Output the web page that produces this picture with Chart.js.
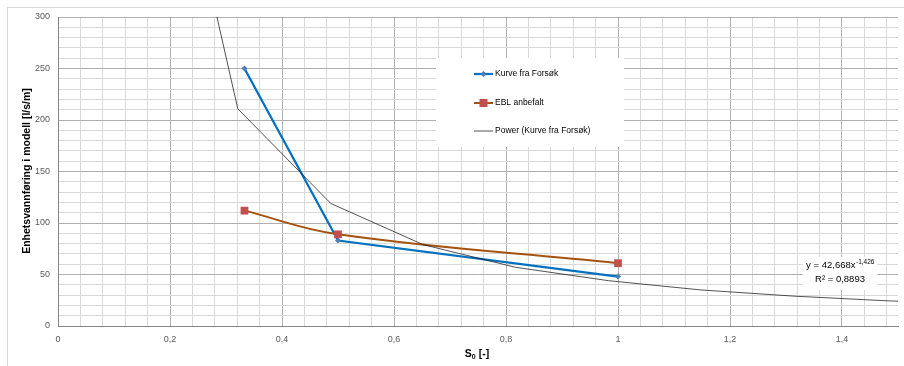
<!DOCTYPE html>
<html lang="no">

<head>
    <meta charset="UTF-8">
    <title>Enhetsvannføring</title>
    <style>
        body {
            margin: 0;
            background: #fff;
        }

        .wrap {
            width: 904px;
            height: 366px;
        }
    </style>
</head>

<body>
    <div class="wrap">
        <canvas id="chart" width="904" height="366"></canvas>
    </div>

    <script src="https://cdn.jsdelivr.net/npm/chart.js@4.4.3/dist/chart.umd.min.js"></script>
    <script>
        // måleserier
        const forsokX = [0.333, 0.5, 1]
        const forsokY = [250, 83, 48]
        const eblX = [0.333, 0.5, 1]
        const eblY = [112, 89, 61]
        // trendlinje (potens), punktene som linjen er tegnet gjennom
        const powerX = [0.155, 0.321, 0.487, 0.652, 0.817, 0.983, 1.148, 1.314, 1.479, 1.645]
        const powerY = [609, 211, 119, 79, 57, 44, 35, 29, 24.5, 21]

        const xMajorTicks = [0, 0.2, 0.4, 0.6, 0.8, 1, 1.2, 1.4]
        const yMajorTicks = [0, 50, 100, 150, 200, 250, 300]
        const xMinorCount = 38 // 0 .. 1,48 i steg på 0,04
        const yMinorCount = 31 // 0 .. 300 i steg på 10

        const legendLabels = ['Kurve fra Forsøk', 'EBL anbefalt', 'Power (Kurve fra Forsøk)']
        const trendText = ['y = 42,668x', '-1,426', 'R² = 0,8893']

        const FONT = '"Liberation Sans", Arial, sans-serif'
        const MAJOR = '#b0b0b0'
        const MINOR = '#d9d9d9'

        const toPts = (xs, ys) => xs.map((x, i) => ({ x: x, y: ys[i] }))
        const isMajor = (list, v) => list.some(m => Math.abs(m - v) < 1e-6)
        const fmt = v => String(v).replace('.', ',')

        const frame = {
            id: 'frame',
            beforeDraw(chart) {
                const ctx = chart.ctx
                ctx.save()
                ctx.fillStyle = '#fff'
                ctx.fillRect(0, 0, chart.width, chart.height)
                ctx.strokeStyle = '#d9d9d9'
                ctx.lineWidth = 1
                ctx.strokeRect(7.5, 7.5, chart.width + 20, chart.height + 20)
                ctx.restore()
            },
            afterDraw(chart) {
                const ctx = chart.ctx
                const a = chart.chartArea
                ctx.save()
                ctx.fillStyle = '#000'

                // y-aksetittel
                ctx.font = 'bold 10.5px ' + FONT
                ctx.textAlign = 'center'
                ctx.textBaseline = 'middle'
                ctx.translate(27, 171)
                ctx.rotate(-Math.PI / 2)
                ctx.fillText('Enhetsvannføring i modell [l/s/m]', 0, 0)
                ctx.setTransform(1, 0, 0, 1, 0, 0)

                // x-aksetittel med senket 0
                const cx = 477, cy = 354
                ctx.textAlign = 'left'
                ctx.font = 'bold 10.5px ' + FONT
                const wS = ctx.measureText('S').width
                const wRest = ctx.measureText(' [-]').width
                ctx.font = 'bold 7px ' + FONT
                const wSub = ctx.measureText('0').width
                let x = cx - (wS + wSub + wRest) / 2
                ctx.font = 'bold 10.5px ' + FONT
                ctx.fillText('S', x, cy)
                x += wS
                ctx.font = 'bold 7px ' + FONT
                ctx.fillText('0', x, cy + 3)
                x += wSub
                ctx.font = 'bold 10.5px ' + FONT
                ctx.fillText(' [-]', x, cy)

                // forklaring
                ctx.fillStyle = '#fff'
                ctx.fillRect(436, 58, 188, 89)
                const rows = [74, 103, 131]
                chart.data.datasets.forEach((ds, i) => {
                    const y = rows[i]
                    ctx.strokeStyle = ds.borderColor
                    ctx.lineWidth = ds.borderWidth
                    ctx.beginPath()
                    ctx.moveTo(474, y)
                    ctx.lineTo(493, y)
                    ctx.stroke()
                    if (ds.pointRadius > 0) {
                        ctx.fillStyle = ds.pointBackgroundColor
                        if (ds.pointStyle === 'rect') {
                            ctx.fillRect(483.5 - 4, y - 4, 8, 8)
                        } else {
                            ctx.beginPath()
                            ctx.moveTo(483.5, y - 3)
                            ctx.lineTo(486.5, y)
                            ctx.lineTo(483.5, y + 3)
                            ctx.lineTo(480.5, y)
                            ctx.closePath()
                            ctx.fill()
                        }
                    }
                    ctx.fillStyle = '#000'
                    ctx.font = '8.5px ' + FONT
                    ctx.textBaseline = 'middle'
                    ctx.fillText(legendLabels[i], 495, y)
                })

                // trendlinjeformel
                ctx.fillStyle = '#fff'
                ctx.fillRect(803, 257, 74, 33)
                ctx.fillStyle = '#000'
                ctx.font = '9.5px ' + FONT
                const w1 = ctx.measureText(trendText[0]).width
                ctx.font = '6.5px ' + FONT
                const w2 = ctx.measureText(trendText[1]).width
                let tx = 840 - (w1 + w2) / 2
                ctx.font = '9.5px ' + FONT
                ctx.fillText(trendText[0], tx, 265)
                ctx.font = '6.5px ' + FONT
                ctx.fillText(trendText[1], tx + w1 + 0.5, 262)
                ctx.font = '9.5px ' + FONT
                ctx.textAlign = 'center'
                ctx.fillText(trendText[2], 840, 279)

                ctx.restore()
            }
        }

        new Chart(document.getElementById('chart'), {
            type: 'scatter',
            data: {
                datasets: [{
                    label: legendLabels[0],
                    data: toPts(forsokX, forsokY),
                    showLine: true,
                    borderColor: '#0070c0',
                    borderWidth: 2.25,
                    pointStyle: 'rectRot',
                    pointRadius: 3,
                    pointBackgroundColor: '#4a7ebb',
                    pointBorderWidth: 0,
                    order: 1,
                }, {
                    label: legendLabels[1],
                    data: toPts(eblX, eblY),
                    showLine: true,
                    borderColor: '#a5520f',
                    borderWidth: 2,
                    tension: 0.4,
                    pointStyle: 'rect',
                    pointRadius: 5.5,
                    pointBackgroundColor: '#c0504d',
                    pointBorderWidth: 0,
                    order: 0,
                }, {
                    label: legendLabels[2],
                    data: toPts(powerX, powerY),
                    showLine: true,
                    borderColor: '#1a1a1a',
                    borderWidth: 0.75,
                    pointRadius: 0,
                    order: -1,
                }],
            },
            options: {
                responsive: false,
                animation: false,
                layout: {
                    padding: { top: 17, right: 6, left: 0, bottom: 0 }
                },
                plugins: {
                    legend: { display: false },
                    tooltip: { enabled: false },
                },
                scales: {
                    x: {
                        type: 'linear',
                        min: 0,
                        max: 1.5,
                        afterFit: s => { s.height = 40 },
                        afterBuildTicks: s => {
                            s.ticks = Array.from({ length: xMinorCount }, (_, i) => ({ value: i * 4 / 100 }))
                        },
                        border: { color: '#868686', width: 1 },
                        grid: {
                            drawTicks: false,
                            color: c => isMajor(xMajorTicks, c.tick.value) ? MAJOR : MINOR,
                        },
                        ticks: {
                            autoSkip: false,
                            maxRotation: 0,
                            padding: 8,
                            color: '#595959',
                            font: { family: FONT, size: 9 },
                            callback: v => isMajor(xMajorTicks, v) ? fmt(Math.round(v * 10) / 10) : '',
                        },
                    },
                    y: {
                        min: 0,
                        max: 300,
                        afterFit: s => { s.width = 58 },
                        afterBuildTicks: s => {
                            s.ticks = Array.from({ length: yMinorCount }, (_, i) => ({ value: i * 10 }))
                        },
                        border: { color: '#868686', width: 1 },
                        grid: {
                            drawTicks: false,
                            color: c => isMajor(yMajorTicks, c.tick.value) ? MAJOR : MINOR,
                        },
                        ticks: {
                            autoSkip: false,
                            padding: 8,
                            color: '#595959',
                            font: { family: FONT, size: 9 },
                            callback: v => isMajor(yMajorTicks, v) ? String(v) : '',
                        },
                    },
                },
            },
            plugins: [frame],
        })
    </script>
</body>

</html>
